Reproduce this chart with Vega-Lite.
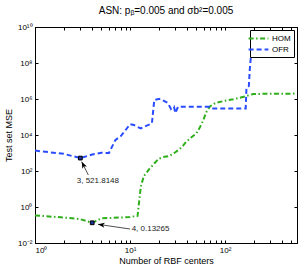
{
  "$schema": "https://vega.github.io/schema/vega-lite/v6.json",
  "width": 262,
  "height": 216,
  "autosize": {"type": "none"},
  "padding": {"left": 35, "top": 27, "right": 8, "bottom": 29},
  "title": {"text": "ASN: pᵦ=0.005 and σb²=0.005", "fontSize": 10, "fontWeight": "normal", "font": "Liberation Sans", "color": "black", "offset": 7},
  "config": {
    "view": {"stroke": "black", "strokeWidth": 1},
    "font": "Liberation Sans",
    "axis": {"labelFont": "Liberation Sans", "labelFontSize": 8, "labelColor": "black", "titleFont": "Liberation Sans", "titleFontSize": 9, "titleFontWeight": "normal", "titleColor": "black", "tickColor": "black", "domainColor": "black", "grid": false, "tickSize": -3, "labelPadding": 6, "labelOverlap": false}
  },
  "datasets": {
    "lines": [
      {"series": "HOM", "x": 1, "y": 0.34}, {"series": "HOM", "x": 2, "y": 0.26}, {"series": "HOM", "x": 3, "y": 0.21}, {"series": "HOM", "x": 4, "y": 0.13265}, {"series": "HOM", "x": 5, "y": 0.235}, {"series": "HOM", "x": 6, "y": 0.245}, {"series": "HOM", "x": 8, "y": 0.26}, {"series": "HOM", "x": 10, "y": 0.28}, {"series": "HOM", "x": 12, "y": 0.32}, {"series": "HOM", "x": 13, "y": 14}, {"series": "HOM", "x": 14, "y": 53}, {"series": "HOM", "x": 16, "y": 130}, {"series": "HOM", "x": 18, "y": 260}, {"series": "HOM", "x": 20, "y": 480}, {"series": "HOM", "x": 23, "y": 620}, {"series": "HOM", "x": 26, "y": 680}, {"series": "HOM", "x": 30, "y": 1100}, {"series": "HOM", "x": 33, "y": 1600}, {"series": "HOM", "x": 36, "y": 2500}, {"series": "HOM", "x": 39, "y": 4200}, {"series": "HOM", "x": 45, "y": 8000}, {"series": "HOM", "x": 50, "y": 12400}, {"series": "HOM", "x": 55, "y": 30000}, {"series": "HOM", "x": 59, "y": 68000}, {"series": "HOM", "x": 64, "y": 200000}, {"series": "HOM", "x": 69, "y": 370000}, {"series": "HOM", "x": 75, "y": 520000}, {"series": "HOM", "x": 81, "y": 620000}, {"series": "HOM", "x": 100, "y": 800000}, {"series": "HOM", "x": 122, "y": 960000}, {"series": "HOM", "x": 150, "y": 1250000}, {"series": "HOM", "x": 169, "y": 1470000}, {"series": "HOM", "x": 198, "y": 1900000}, {"series": "HOM", "x": 300, "y": 1950000}, {"series": "HOM", "x": 572, "y": 2000000},
      {"series": "OFR", "x": 1, "y": 1360}, {"series": "OFR", "x": 2, "y": 900}, {"series": "OFR", "x": 3, "y": 521.8148}, {"series": "OFR", "x": 4, "y": 820}, {"series": "OFR", "x": 5, "y": 1030}, {"series": "OFR", "x": 6, "y": 1000}, {"series": "OFR", "x": 7, "y": 5200}, {"series": "OFR", "x": 8, "y": 8700}, {"series": "OFR", "x": 9, "y": 19000}, {"series": "OFR", "x": 10, "y": 40000}, {"series": "OFR", "x": 11, "y": 36000}, {"series": "OFR", "x": 12, "y": 28000}, {"series": "OFR", "x": 13, "y": 23500}, {"series": "OFR", "x": 15, "y": 33000}, {"series": "OFR", "x": 17, "y": 44500}, {"series": "OFR", "x": 18, "y": 880000}, {"series": "OFR", "x": 20, "y": 1000000}, {"series": "OFR", "x": 21, "y": 1000000}, {"series": "OFR", "x": 25, "y": 600000}, {"series": "OFR", "x": 27, "y": 280000}, {"series": "OFR", "x": 29, "y": 370000}, {"series": "OFR", "x": 30, "y": 166000}, {"series": "OFR", "x": 32, "y": 370000}, {"series": "OFR", "x": 68, "y": 370000}, {"series": "OFR", "x": 72, "y": 300000}, {"series": "OFR", "x": 165, "y": 300000}, {"series": "OFR", "x": 168, "y": 4000000}, {"series": "OFR", "x": 178, "y": 5200000}, {"series": "OFR", "x": 182, "y": 41000000}, {"series": "OFR", "x": 188, "y": 316000000}, {"series": "OFR", "x": 572, "y": 316000000}
    ],
    "marks": [{"x": 3, "y": 521.8148}, {"x": 4, "y": 0.13265}],
    "arrows": [
      {"id": "a", "x": 3.64, "y": 60, "x2": 3.1, "y2": 329},
      {"id": "b", "x": 10, "y": 0.06, "x2": 4.6, "y2": 0.109}
    ],
    "labels": [
      {"x": 2.75, "y": 28.9, "text": "3, 521.8148"},
      {"x": 10.4, "y": 0.0577, "text": "4, 0.13265"}
    ]
  },
  "layer": [
    {
      "data": {"name": "lines"},
      "mark": {"type": "line", "strokeWidth": 2, "clip": true},
      "encoding": {
        "x": {"field": "x", "type": "quantitative", "scale": {"type": "log", "domain": [1, 572], "nice": false},
          "axis": {"orient": "bottom", "title": "Number of RBF centers", "titlePadding": 2, "values": [1, 2, 3, 4, 5, 6, 7, 8, 9, 10, 20, 30, 40, 50, 60, 70, 80, 90, 100, 200, 300, 400, 500],
            "labelExpr": "datum.value==1?'10⁰':datum.value==10?'10¹':datum.value==100?'10²':''"}},
        "y": {"field": "y", "type": "quantitative", "scale": {"type": "log", "domain": [0.01, 10000000000], "nice": false},
          "axis": {"orient": "left", "title": "Test set MSE", "titlePadding": 4, "values": [0.01, 1, 100, 10000, 1000000, 100000000, 10000000000],
            "labelExpr": "datum.value==0.01?'10⁻²':datum.value==1?'10⁰':datum.value==100?'10²':datum.value==10000?'10⁴':datum.value==1000000?'10⁶':datum.value==100000000?'10⁸':'10¹⁰'"}},
        "color": {"field": "series", "type": "nominal", "scale": {"domain": ["HOM", "OFR"], "range": ["#2eae1a", "#2a4cff"]},
          "legend": {"orient": "top-right", "offset": 3, "title": null, "strokeColor": "black", "fillColor": "white", "padding": 3, "symbolType": "M-2.2,0L2.2,0", "symbolSize": 81, "symbolStrokeWidth": 2, "labelFontSize": 8, "labelOffset": 8, "rowPadding": 1, "labelColor": "black"}},
        "strokeDash": {"field": "series", "type": "nominal", "scale": {"domain": ["HOM", "OFR"], "range": [[5, 2.5, 1.5, 2.5], [5, 3]]},
          "legend": {"orient": "top-right", "offset": 3, "title": null, "strokeColor": "black", "fillColor": "white", "padding": 3, "symbolType": "M-2.2,0L2.2,0", "symbolSize": 81, "symbolStrokeWidth": 2, "labelFontSize": 8, "labelOffset": 8, "rowPadding": 1, "labelColor": "black"}}
      }
    },
    {
      "data": {"name": "marks"},
      "mark": {"type": "point", "shape": "square", "filled": true, "fill": "#1c2f9a", "stroke": "black", "strokeWidth": 1, "size": 14, "opacity": 1},
      "encoding": {
        "x": {"field": "x", "type": "quantitative", "scale": {"type": "log", "domain": [1, 572], "nice": false},
          "axis": {"orient": "top", "labels": false, "title": null, "values": [1, 2, 3, 4, 5, 6, 7, 8, 9, 10, 20, 30, 40, 50, 60, 70, 80, 90, 100, 200, 300, 400, 500]}},
        "y": {"field": "y", "type": "quantitative", "scale": {"type": "log", "domain": [0.01, 10000000000], "nice": false},
          "axis": {"orient": "right", "labels": false, "title": null, "values": [0.01, 1, 100, 10000, 1000000, 100000000, 10000000000]}}
      }
    },
    {
      "data": {"name": "arrows"},
      "mark": {"type": "rule", "color": "#222222", "strokeWidth": 0.8},
      "encoding": {
        "x": {"field": "x", "type": "quantitative", "scale": {"type": "log", "domain": [1, 572], "nice": false}, "axis": null},
        "y": {"field": "y", "type": "quantitative", "scale": {"type": "log", "domain": [0.01, 10000000000], "nice": false}, "axis": null},
        "x2": {"field": "x2"},
        "y2": {"field": "y2"}
      }
    },
    {
      "data": {"name": "arrows"},
      "transform": [{"filter": "datum.id == 'a'"}],
      "mark": {"type": "point", "shape": "M0,0L-0.38,1L0,0.75L0.38,1Z", "filled": true, "color": "black", "size": 180, "angle": 333.6, "opacity": 1},
      "encoding": {
        "x": {"field": "x2", "type": "quantitative", "scale": {"type": "log", "domain": [1, 572], "nice": false}, "axis": null},
        "y": {"field": "y2", "type": "quantitative", "scale": {"type": "log", "domain": [0.01, 10000000000], "nice": false}, "axis": null}
      }
    },
    {
      "data": {"name": "arrows"},
      "transform": [{"filter": "datum.id == 'b'"}],
      "mark": {"type": "point", "shape": "M0,0L-0.38,1L0,0.75L0.38,1Z", "filled": true, "color": "black", "size": 180, "angle": 278.4, "opacity": 1},
      "encoding": {
        "x": {"field": "x2", "type": "quantitative", "scale": {"type": "log", "domain": [1, 572], "nice": false}, "axis": null},
        "y": {"field": "y2", "type": "quantitative", "scale": {"type": "log", "domain": [0.01, 10000000000], "nice": false}, "axis": null}
      }
    },
    {
      "data": {"name": "labels"},
      "mark": {"type": "text", "align": "left", "baseline": "middle", "fontSize": 8, "font": "Liberation Sans", "color": "#222222"},
      "encoding": {
        "x": {"field": "x", "type": "quantitative", "scale": {"type": "log", "domain": [1, 572], "nice": false}, "axis": null},
        "y": {"field": "y", "type": "quantitative", "scale": {"type": "log", "domain": [0.01, 10000000000], "nice": false}, "axis": null},
        "text": {"field": "text"}
      }
    }
  ],
  "resolve": {"axis": {"x": "independent", "y": "independent"}}
}
